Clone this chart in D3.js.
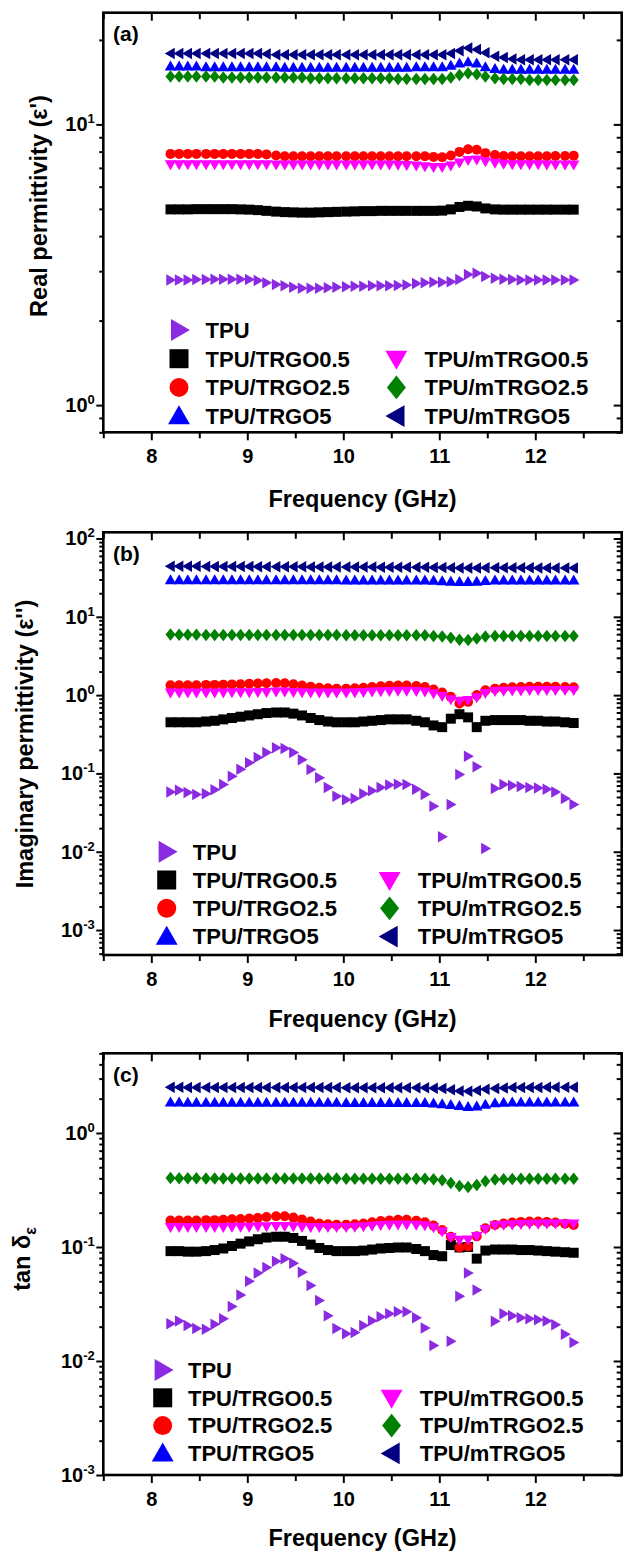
<!DOCTYPE html>
<html>
<head>
<meta charset="utf-8">
<script src="https://cdn.jsdelivr.net/npm/d3@7"></script>
<style>
  body { margin: 0; background: #fff; }
  svg { display: block; }
  text { font-family: Arial, "Liberation Sans", sans-serif; font-weight: bold; }
</style>
</head>
<body>
<div id="viz"></div>
<script>
// frequency points (GHz)
const freq = [8.2,8.29,8.38,8.47,8.57,8.66,8.75,8.84,8.93,9.02,
  9.11,9.2,9.3,9.39,9.48,9.57,9.66,9.75,9.84,9.93,
  10.03,10.12,10.21,10.3,10.39,10.48,10.57,10.66,10.76,10.85,
  10.94,11.03,11.12,11.21,11.3,11.39,11.48,11.58,11.67,11.76,
  11.85,11.94,12.03,12.12,12.21,12.31,12.4];

const names = ["TPU", "TPU/TRGO0.5", "TPU/TRGO2.5", "TPU/TRGO5", "TPU/mTRGO0.5", "TPU/mTRGO2.5", "TPU/mTRGO5"];
const colors = ["#8A2BE2", "#000000", "#FF0000", "#0000FF", "#FF00FF", "#008000", "#000080"];
const shapes = ["right", "square", "circle", "up", "down", "diamond", "left"];
// legend slot [column, row]
const slots = [[0,0],[0,1],[0,2],[0,3],[1,1],[1,2],[1,3]];

const xTicks = [8, 9, 10, 11, 12];
const xMinor = [7.5, 8.5, 9.5, 10.5, 11.5, 12.5];

// (a) real permittivity
const realTPU = [2.79,2.79,2.79,2.80,2.80,2.81,2.81,2.81,2.81,2.80,
  2.78,2.73,2.69,2.66,2.63,2.61,2.61,2.61,2.62,2.63,
  2.64,2.65,2.65,2.66,2.66,2.66,2.67,2.68,2.71,2.73,
  2.74,2.74,2.75,2.80,2.92,2.95,2.87,2.83,2.81,2.80,
  2.79,2.79,2.79,2.79,2.79,2.79,2.79];
const realTRGO05 = [4.98,4.98,4.98,4.99,4.99,4.99,4.99,4.99,4.98,4.97,
  4.95,4.92,4.89,4.87,4.86,4.85,4.85,4.86,4.87,4.88,
  4.89,4.90,4.91,4.91,4.92,4.92,4.92,4.92,4.92,4.92,
  4.92,4.93,4.98,5.08,5.13,5.10,5.02,4.98,4.97,4.97,
  4.97,4.97,4.97,4.97,4.97,4.97,4.97];
const realTRGO25 = [7.85,7.85,7.85,7.85,7.85,7.85,7.85,7.85,7.85,7.85,
  7.85,7.82,7.75,7.70,7.70,7.70,7.70,7.70,7.70,7.70,
  7.70,7.70,7.70,7.70,7.70,7.70,7.70,7.70,7.70,7.70,
  7.66,7.64,7.75,7.98,8.15,8.12,7.90,7.78,7.72,7.70,
  7.70,7.70,7.70,7.70,7.72,7.72,7.74];
const realTRGO5 = [16.1,16.1,16.1,16.1,16.0,16.0,16.0,16.0,16.0,16.0,
  16.0,16.0,16.0,15.95,15.95,15.95,15.95,15.95,15.95,15.95,
  15.95,15.95,15.95,15.95,15.95,15.95,15.95,15.95,16.0,16.0,
  16.0,16.0,16.2,16.5,16.7,16.5,16.0,15.8,15.7,15.7,
  15.7,15.7,15.7,15.7,15.7,15.7,15.7];
const realmTRGO05 = [7.19,7.19,7.19,7.19,7.19,7.19,7.19,7.19,7.19,7.19,
  7.19,7.19,7.18,7.18,7.18,7.18,7.18,7.18,7.18,7.18,
  7.18,7.18,7.18,7.18,7.18,7.18,7.17,7.16,7.12,7.08,
  7.04,7.03,7.12,7.30,7.45,7.48,7.38,7.28,7.22,7.20,
  7.19,7.19,7.19,7.18,7.18,7.18,7.18];
const realmTRGO25 = [14.8,14.8,14.8,14.8,14.8,14.8,14.7,14.7,14.7,14.7,
  14.7,14.7,14.7,14.7,14.7,14.7,14.6,14.6,14.6,14.6,
  14.6,14.6,14.6,14.6,14.6,14.6,14.5,14.5,14.5,14.5,
  14.5,14.5,14.7,15.0,15.2,15.1,14.8,14.6,14.5,14.5,
  14.5,14.4,14.4,14.4,14.4,14.4,14.4];
const realmTRGO5 = [17.9,17.9,17.9,17.9,17.9,17.9,17.9,17.9,17.9,17.9,
  17.9,17.8,17.7,17.7,17.7,17.7,17.7,17.7,17.7,17.7,
  17.7,17.7,17.7,17.7,17.7,17.7,17.7,17.7,17.7,17.7,
  17.7,17.7,17.9,18.3,18.7,18.5,18.0,17.5,17.3,17.1,
  17.0,17.0,17.0,17.0,17.0,17.0,17.0];

// (b) imaginary permittivity
const imTPU = [0.058,0.061,0.057,0.054,0.055,0.062,0.072,0.092,0.113,0.137,
  0.160,0.185,0.212,0.208,0.185,0.150,0.112,0.088,0.066,0.051,
  0.046,0.048,0.055,0.060,0.066,0.071,0.073,0.072,0.063,0.054,
  0.038,0.0155,0.040,0.097,0.166,0.122,0.011,0.064,0.072,0.070,
  0.068,0.066,0.065,0.063,0.058,0.048,0.040];
const imTRGO05 = [0.45,0.45,0.45,0.45,0.46,0.47,0.49,0.51,0.53,0.55,
  0.57,0.59,0.60,0.60,0.58,0.55,0.51,0.48,0.46,0.45,
  0.45,0.45,0.46,0.47,0.48,0.49,0.49,0.49,0.47,0.45,
  0.41,0.39,0.50,0.57,0.52,0.39,0.47,0.48,0.48,0.48,
  0.48,0.47,0.47,0.46,0.46,0.45,0.44];
const imTRGO25 = [1.34,1.34,1.34,1.34,1.35,1.35,1.36,1.37,1.38,1.40,
  1.41,1.42,1.43,1.42,1.38,1.33,1.28,1.24,1.22,1.21,
  1.21,1.22,1.24,1.27,1.30,1.32,1.33,1.33,1.31,1.27,
  1.18,1.08,0.95,0.78,0.82,1.00,1.15,1.21,1.24,1.26,
  1.27,1.28,1.28,1.28,1.28,1.27,1.26];
const imTRGO5 = [29.5,29.5,29.5,29.5,29.5,29.5,29.5,29.5,29.5,29.5,
  29.5,29.5,29.5,29.5,29.5,29.5,29.5,29.5,29.5,29.5,
  29.3,29.3,29.3,29.3,29.3,29.3,29.3,29.3,29.3,29.3,
  29.0,28.6,28.2,28.0,28.0,28.2,28.8,29.2,29.3,29.3,
  29.3,29.3,29.3,29.3,29.3,29.3,29.3];
const immTRGO05 = [1.07,1.07,1.07,1.07,1.07,1.07,1.07,1.08,1.08,1.08,
  1.09,1.09,1.10,1.10,1.09,1.08,1.07,1.07,1.07,1.07,
  1.07,1.08,1.09,1.10,1.11,1.12,1.13,1.13,1.12,1.10,
  1.05,0.97,0.88,0.84,0.86,0.93,1.06,1.12,1.13,1.14,
  1.14,1.15,1.15,1.15,1.15,1.15,1.15];
const immTRGO25 = [5.95,5.9,5.9,5.9,5.85,5.85,5.85,5.85,5.85,5.85,
  5.85,5.85,5.85,5.85,5.85,5.85,5.85,5.85,5.85,5.85,
  5.8,5.8,5.8,5.8,5.8,5.8,5.8,5.8,5.8,5.8,
  5.7,5.6,5.4,5.1,5.05,5.3,5.6,5.7,5.7,5.7,
  5.7,5.7,5.7,5.7,5.7,5.7,5.7];
const immTRGO5 = [44.3,44.2,44.2,44.1,44.0,44.0,43.9,43.9,43.8,43.8,
  43.7,43.7,43.6,43.6,43.5,43.5,43.4,43.4,43.3,43.3,
  43.2,43.2,43.1,43.1,43.0,43.0,42.9,42.9,42.8,42.8,
  42.7,42.6,42.3,42.0,41.9,42.1,42.3,42.3,42.3,42.2,
  42.2,42.2,42.1,42.1,42.1,42.0,42.0];

// (c) loss tangent
const tanTPU = [0.0212,0.0224,0.0205,0.0193,0.0190,0.0210,0.0235,0.030,0.038,0.050,
  0.059,0.066,0.075,0.079,0.072,0.060,0.046,0.034,0.025,0.0193,
  0.0173,0.0178,0.0205,0.0225,0.0245,0.026,0.027,0.027,0.024,0.0195,
  0.0137,null,0.0149,0.037,0.059,0.042,null,0.0223,0.026,0.025,
  0.024,0.0235,0.023,0.0224,0.0208,0.0172,0.0145];
const tanTRGO05 = [0.092,0.092,0.091,0.091,0.092,0.094,0.097,0.102,0.107,0.112,
  0.117,0.121,0.123,0.123,0.120,0.113,0.105,0.098,0.094,0.092,
  0.092,0.092,0.093,0.095,0.097,0.098,0.099,0.099,0.096,0.092,
  0.085,0.083,0.104,0.099,0.100,0.079,0.093,0.095,0.095,0.095,
  0.094,0.094,0.093,0.092,0.091,0.090,0.089];
const tanTRGO25 = [0.171,0.171,0.171,0.171,0.172,0.172,0.173,0.175,0.176,0.178,
  0.180,0.183,0.186,0.186,0.181,0.174,0.167,0.161,0.158,0.157,
  0.157,0.158,0.161,0.165,0.169,0.171,0.173,0.173,0.170,0.165,
  0.154,0.141,0.123,0.099,0.101,0.124,0.146,0.156,0.161,0.164,
  0.166,0.167,0.167,0.166,0.164,0.160,0.156];
const tanTRGO5 = [1.86,1.86,1.85,1.85,1.85,1.85,1.85,1.85,1.85,1.85,
  1.85,1.85,1.85,1.85,1.85,1.85,1.85,1.85,1.85,1.85,
  1.84,1.84,1.84,1.84,1.84,1.84,1.84,1.84,1.84,1.84,
  1.82,1.80,1.77,1.73,1.70,1.72,1.78,1.83,1.85,1.86,
  1.86,1.86,1.86,1.86,1.86,1.86,1.86];
const tanmTRGO05 = [0.149,0.149,0.149,0.149,0.149,0.149,0.149,0.150,0.150,0.150,
  0.151,0.151,0.152,0.152,0.151,0.150,0.149,0.149,0.149,0.149,
  0.149,0.150,0.151,0.153,0.155,0.156,0.157,0.157,0.156,0.154,
  0.148,0.137,0.122,0.115,0.116,0.124,0.143,0.154,0.156,0.157,
  0.158,0.159,0.159,0.160,0.160,0.160,0.160];
const tanmTRGO25 = [0.402,0.400,0.400,0.400,0.398,0.398,0.398,0.398,0.398,0.398,
  0.398,0.398,0.398,0.398,0.398,0.398,0.398,0.398,0.398,0.398,
  0.397,0.397,0.397,0.397,0.397,0.397,0.397,0.397,0.397,0.397,
  0.392,0.385,0.365,0.343,0.336,0.350,0.378,0.390,0.393,0.395,
  0.396,0.396,0.396,0.396,0.396,0.396,0.396];
const tanmTRGO5 = [2.52,2.52,2.51,2.51,2.51,2.51,2.51,2.51,2.51,2.51,
  2.50,2.50,2.50,2.50,2.50,2.50,2.50,2.50,2.50,2.50,
  2.49,2.49,2.49,2.49,2.49,2.49,2.49,2.49,2.49,2.49,
  2.47,2.45,2.40,2.34,2.32,2.36,2.42,2.46,2.48,2.50,
  2.51,2.51,2.51,2.52,2.52,2.52,2.52];

const panels = [
  {label: "(a)", top: 12.7, bottom: 432.3, domain: [0.8, 25],
   series: [realTPU, realTRGO05, realTRGO25, realTRGO5, realmTRGO05, realmTRGO25, realmTRGO5],
   title: "Real permittivity (\u03b5')", titleX: 47, titleY: 206, xTitleGap: 75,
   legend: {y0: 330, dy: 28.7, cols: [[179, 205.6], [396.4, 424.5]]}},
  {label: "(b)", top: 532.3, bottom: 955, domain: [4.8e-4, 120],
   series: [imTPU, imTRGO05, imTRGO25, imTRGO5, immTRGO05, immTRGO25, immTRGO5],
   title: "Imaginary permittivity (\u03b5'')", titleX: 33, titleY: 744, xTitleGap: 72,
   legend: {y0: 851.7, dy: 28.3, cols: [[166.7, 192.8], [389.6, 417.7]]}},
  {label: "(c)", top: 1053.3, bottom: 1475, domain: [1e-3, 5],
   series: [tanTPU, tanTRGO05, tanTRGO25, tanTRGO5, tanmTRGO05, tanmTRGO25, tanmTRGO5],
   title: "tan", titleX: 30, titleY: 1259, xTitleGap: 71,
   legend: {y0: 1370, dy: 27.8, cols: [[162.7, 188], [391.6, 419.7]]}}
];

const width = 626, height = 1553;
const left = 103.3, right = 621.7;

const x = d3.scaleLinear().domain([7.5, 12.9]).range([left, right]);

function shapePath(type, s) {
  switch (type) {
    case "square": return `M${-s},${-s}h${2*s}v${2*s}h${-2*s}Z`;
    case "circle": return `M${s},0A${s},${s} 0 1,1 ${-s},0A${s},${s} 0 1,1 ${s},0Z`;
    case "up": return `M0,${-1.15*s}L${1.15*s},${0.85*s}L${-1.15*s},${0.85*s}Z`;
    case "down": return `M0,${1.15*s}L${1.15*s},${-0.85*s}L${-1.15*s},${-0.85*s}Z`;
    case "diamond": return `M0,${-1.25*s}L${s},0L0,${1.25*s}L${-s},0Z`;
    case "left": return `M${-1.15*s},0L${0.85*s},${-1.15*s}L${0.85*s},${1.15*s}Z`;
    case "right": return `M${1.15*s},0L${-0.85*s},${-1.15*s}L${-0.85*s},${1.15*s}Z`;
  }
}

const svg = d3.select("#viz")
  .append("svg")
  .attr("width", width)
  .attr("height", height)
  .attr("viewBox", [0, 0, width, height]);

svg.append("rect").attr("width", width).attr("height", height).attr("fill", "#fff");

function styleAxis(g) {
  g.select(".domain").remove();
  g.selectAll(".tick line").attr("stroke", "#000").attr("stroke-width", 2);
  g.attr("font-family", null).attr("font-size", null);
}

panels.forEach(p => {
  const y = d3.scaleLog().domain(p.domain).range([p.bottom, p.top]);

  // log ticks: majors at decades, minors at 2..9
  const lo = Math.floor(Math.log10(p.domain[0])), hi = Math.ceil(Math.log10(p.domain[1]));
  const majors = [], minors = [];
  for (let e = lo; e <= hi; e++) {
    for (let m = 1; m <= 9; m++) {
      const v = m * Math.pow(10, e);
      if (v < p.domain[0] * 0.999 || v > p.domain[1] * 1.001) continue;
      (m === 1 ? majors : minors).push(v);
    }
  }

  const panel = svg.append("g");

  // data markers
  p.series.forEach((vals, si) => {
    const pts = freq.map((f, i) => [f, vals[i]]).filter(d => d[1] != null);
    panel.append("g")
      .selectAll("path")
      .data(pts)
      .join("path")
      .attr("transform", d => `translate(${x(d[0])},${y(d[1])})`)
      .attr("d", shapePath(shapes[si], 5))
      .attr("fill", colors[si]);
  });

  // left axis
  panel.append("g")
    .attr("transform", `translate(${left},0)`)
    .call(d3.axisLeft(y).tickValues(majors).tickSize(7).tickPadding(1.5))
    .call(styleAxis)
    .call(g => {
      g.selectAll(".tick text").text(null).attr("font-size", 20).attr("fill", "#000")
        .each(function(d) {
          const t = d3.select(this);
          t.append("tspan").text("10");
          t.append("tspan").attr("dy", -8).attr("font-size", 13).text(Math.round(Math.log10(d)));
        });
    });
  panel.append("g")
    .attr("transform", `translate(${left},0)`)
    .call(d3.axisLeft(y).tickValues(minors).tickSize(4).tickFormat(""))
    .call(styleAxis);

  // right axis (ticks inward)
  panel.append("g")
    .attr("transform", `translate(${right},0)`)
    .call(d3.axisRight(y).tickValues(majors).tickSize(-8).tickFormat(""))
    .call(styleAxis);
  panel.append("g")
    .attr("transform", `translate(${right},0)`)
    .call(d3.axisRight(y).tickValues(minors).tickSize(-5).tickFormat(""))
    .call(styleAxis);

  // bottom axis
  panel.append("g")
    .attr("transform", `translate(0,${p.bottom})`)
    .call(d3.axisBottom(x).tickValues(xTicks).tickSize(8).tickPadding(9).tickFormat(d3.format("d")))
    .call(styleAxis)
    .call(g => g.selectAll(".tick text").attr("font-size", 20).attr("fill", "#000"));
  panel.append("g")
    .attr("transform", `translate(0,${p.bottom})`)
    .call(d3.axisBottom(x).tickValues(xMinor).tickSize(6).tickFormat(""))
    .call(styleAxis);

  // top axis (ticks inward)
  panel.append("g")
    .attr("transform", `translate(0,${p.top})`)
    .call(d3.axisTop(x).tickValues(xTicks).tickSize(-8).tickFormat(""))
    .call(styleAxis);
  panel.append("g")
    .attr("transform", `translate(0,${p.top})`)
    .call(d3.axisTop(x).tickValues(xMinor).tickSize(-6.5).tickFormat(""))
    .call(styleAxis);

  // frame
  panel.append("rect")
    .attr("x", left).attr("y", p.top)
    .attr("width", right - left).attr("height", p.bottom - p.top)
    .attr("fill", "none").attr("stroke", "#000").attr("stroke-width", 2.6);

  // panel label
  panel.append("text")
    .attr("x", 113).attr("y", p.top + 28.5)
    .attr("font-size", 21)
    .text(p.label);

  // axis titles
  panel.append("text")
    .attr("x", (left + right) / 2).attr("y", p.bottom + p.xTitleGap)
    .attr("text-anchor", "middle")
    .attr("font-size", 23.5)
    .text("Frequency (GHz)");

  const yt = panel.append("text")
    .attr("transform", `translate(${p.titleX},${p.titleY}) rotate(-90)`)
    .attr("text-anchor", "middle")
    .attr("font-size", 23.5);
  if (p.label === "(c)") {
    yt.append("tspan").text("tan \u03b4");
    yt.append("tspan").attr("dy", 6).attr("font-size", 16).text("\u03b5");
  } else {
    yt.text(p.title);
  }

  // legend
  const lg = panel.append("g");
  names.forEach((name, si) => {
    const [c, r] = slots[si];
    const my = p.legend.y0 + r * p.legend.dy;
    lg.append("path")
      .attr("transform", `translate(${p.legend.cols[c][0]},${my})`)
      .attr("d", shapePath(shapes[si], 9.5))
      .attr("fill", colors[si]);
    lg.append("text")
      .attr("x", p.legend.cols[c][1]).attr("y", my + 7.8)
      .attr("font-size", 22)
      .text(name);
  });
});
</script>
</body>
</html>
